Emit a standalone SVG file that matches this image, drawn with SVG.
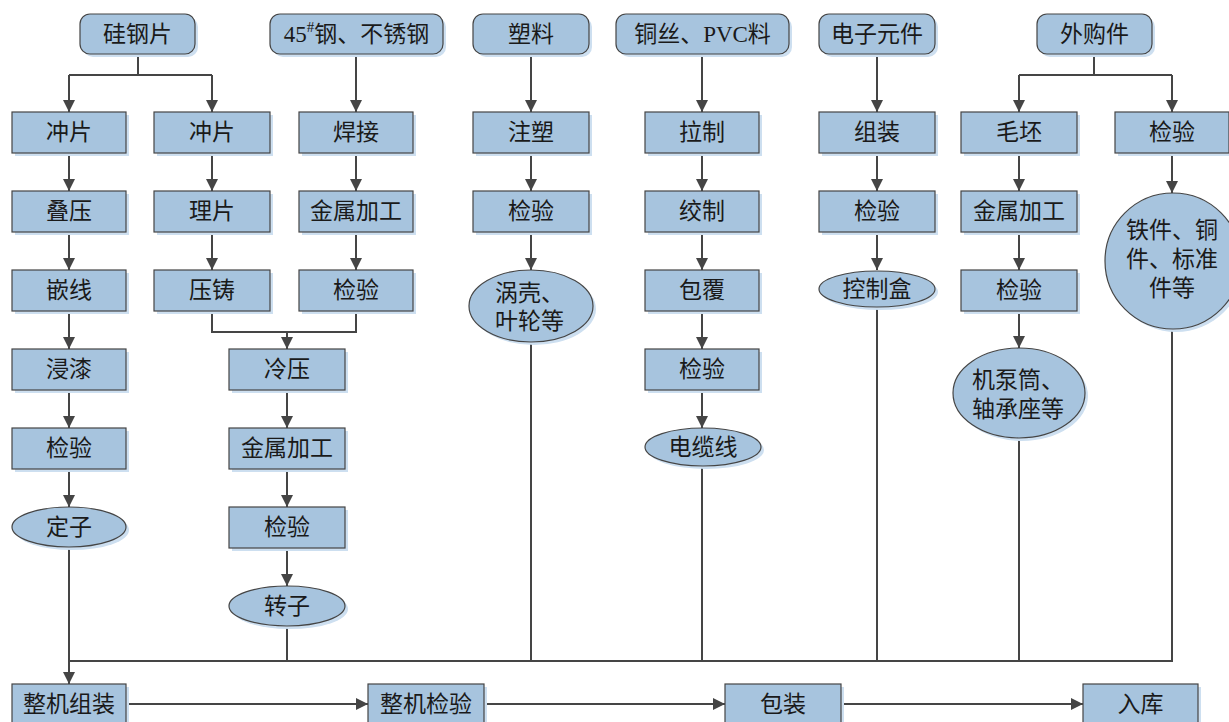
<svg xmlns="http://www.w3.org/2000/svg" width="1229" height="722" viewBox="0 0 1229 722">
<style>
.n{fill:#a7c4de;stroke:#454545;stroke-width:1.2}
.s{fill:#cddff0;stroke:none}
.t{font-family:"Liberation Serif","Noto Sans CJK SC",serif;font-size:23px;fill:#1a1a1a;text-anchor:middle;dominant-baseline:central}
.ts{font-family:"Liberation Serif","Noto Sans CJK SC",serif;font-size:23px;fill:#1a1a1a;text-anchor:start;dominant-baseline:central}
.c{fill:none;stroke:#454545;stroke-width:2}
.a{marker-end:url(#ah)}
</style>
<defs>
<marker id="ah" markerUnits="userSpaceOnUse" markerWidth="13" markerHeight="13" refX="12" refY="6" orient="auto">
<path d="M0,0 L12,6 L0,12 z" fill="#454545"/>
</marker>
</defs>
<rect width="1229" height="722" fill="#ffffff"/>
<g id="connectors">
<path class="c" d="M138 54V75M69 75H212"/>
<path class="c a" d="M69 75V112"/>
<path class="c a" d="M212 75V112"/>
<path class="c a" d="M356 54V112"/>
<path class="c a" d="M531 54V112"/>
<path class="c a" d="M702 54V112"/>
<path class="c a" d="M877 54V112"/>
<path class="c" d="M1094 54V75M1019 75H1172"/>
<path class="c a" d="M1019 75V112"/>
<path class="c a" d="M1172 75V112"/>
<path class="c a" d="M69 153V191"/>
<path class="c a" d="M69 232V270"/>
<path class="c a" d="M69 311V349"/>
<path class="c a" d="M69 390V428"/>
<path class="c a" d="M69 469V507"/>
<path class="c a" d="M212 153V191"/>
<path class="c a" d="M212 232V270"/>
<path class="c a" d="M356 153V191"/>
<path class="c a" d="M356 232V270"/>
<path class="c" d="M212 311V332H356V311"/>
<path class="c a" d="M287 332V349"/>
<path class="c a" d="M287 390V428"/>
<path class="c a" d="M287 469V507"/>
<path class="c a" d="M287 548V586"/>
<path class="c a" d="M531 153V191"/>
<path class="c a" d="M531 232V270"/>
<path class="c a" d="M702 153V191"/>
<path class="c a" d="M702 232V270"/>
<path class="c a" d="M702 311V349"/>
<path class="c a" d="M702 390V428"/>
<path class="c a" d="M877 153V191"/>
<path class="c a" d="M877 232V270"/>
<path class="c a" d="M1019 153V191"/>
<path class="c a" d="M1019 232V270"/>
<path class="c a" d="M1019 311V348"/>
<path class="c a" d="M1172 153V193"/>
<path class="c" d="M69 547V661H1172V329M287 626V661M531 342V661M702 466V661M877 308V661M1019 438V661"/>
<path class="c a" d="M69 661V684"/>
<path class="c a" d="M126 704H368"/>
<path class="c a" d="M484 704H725"/>
<path class="c a" d="M841 704H1083"/>
</g>
<g id="n-guigangpian"><rect class="s" x="83" y="17" width="115" height="40" rx="10"/><rect class="n" x="80" y="14" width="115" height="40" rx="10"/><text class="t" x="137.5" y="34">硅钢片</text></g>
<g id="n-45gang"><rect class="s" x="273" y="17" width="173" height="40" rx="10"/><rect class="n" x="270" y="14" width="173" height="40" rx="10"/><text class="t" x="356.5" y="34">45<tspan font-size="15" dy="-7">#</tspan><tspan dy="7">钢、不锈钢</tspan></text></g>
<g id="n-suliao"><rect class="s" x="476" y="17" width="116" height="40" rx="10"/><rect class="n" x="473" y="14" width="116" height="40" rx="10"/><text class="t" x="531" y="34">塑料</text></g>
<g id="n-tongsi"><rect class="s" x="619" y="17" width="173" height="40" rx="10"/><rect class="n" x="616" y="14" width="173" height="40" rx="10"/><text class="t" x="702.5" y="34">铜丝、PVC料</text></g>
<g id="n-dianzi"><rect class="s" x="822" y="17" width="116" height="40" rx="10"/><rect class="n" x="819" y="14" width="116" height="40" rx="10"/><text class="t" x="877" y="34">电子元件</text></g>
<g id="n-waigou"><rect class="s" x="1040" y="17" width="115" height="40" rx="10"/><rect class="n" x="1037" y="14" width="115" height="40" rx="10"/><text class="t" x="1094.5" y="34">外购件</text></g>

<g id="n-c1-chongpian"><rect class="s" x="15" y="115" width="114" height="41"/><rect class="n" x="12" y="112" width="114" height="41"/><text class="t" x="69" y="132.5">冲片</text></g>
<g id="n-c1-diya"><rect class="s" x="15" y="194" width="114" height="41"/><rect class="n" x="12" y="191" width="114" height="41"/><text class="t" x="69" y="211.5">叠压</text></g>
<g id="n-c1-qianxian"><rect class="s" x="15" y="273" width="114" height="41"/><rect class="n" x="12" y="270" width="114" height="41"/><text class="t" x="69" y="290.5">嵌线</text></g>
<g id="n-c1-jinqi"><rect class="s" x="15" y="352" width="114" height="41"/><rect class="n" x="12" y="349" width="114" height="41"/><text class="t" x="69" y="369.5">浸漆</text></g>
<g id="n-c1-jianyan"><rect class="s" x="15" y="431" width="114" height="41"/><rect class="n" x="12" y="428" width="114" height="41"/><text class="t" x="69" y="448.5">检验</text></g>
<g id="n-dingzi"><ellipse class="s" cx="72" cy="530" rx="57" ry="20"/><ellipse class="n" cx="69" cy="527" rx="57" ry="20"/><text class="t" x="69" y="527">定子</text></g>

<g id="n-c2-chongpian"><rect class="s" x="157" y="115" width="116" height="41"/><rect class="n" x="154" y="112" width="116" height="41"/><text class="t" x="212" y="132.5">冲片</text></g>
<g id="n-c2-lipian"><rect class="s" x="157" y="194" width="116" height="41"/><rect class="n" x="154" y="191" width="116" height="41"/><text class="t" x="212" y="211.5">理片</text></g>
<g id="n-c2-yazhu"><rect class="s" x="157" y="273" width="116" height="41"/><rect class="n" x="154" y="270" width="116" height="41"/><text class="t" x="212" y="290.5">压铸</text></g>

<g id="n-c3-hanjie"><rect class="s" x="302" y="115" width="114" height="41"/><rect class="n" x="299" y="112" width="114" height="41"/><text class="t" x="356" y="132.5">焊接</text></g>
<g id="n-c3-jinshu"><rect class="s" x="302" y="194" width="114" height="41"/><rect class="n" x="299" y="191" width="114" height="41"/><text class="t" x="356" y="211.5">金属加工</text></g>
<g id="n-c3-jianyan"><rect class="s" x="302" y="273" width="114" height="41"/><rect class="n" x="299" y="270" width="114" height="41"/><text class="t" x="356" y="290.5">检验</text></g>

<g id="n-lengya"><rect class="s" x="232" y="352" width="116" height="41"/><rect class="n" x="229" y="349" width="116" height="41"/><text class="t" x="287" y="369.5">冷压</text></g>
<g id="n-r-jinshu"><rect class="s" x="232" y="431" width="116" height="41"/><rect class="n" x="229" y="428" width="116" height="41"/><text class="t" x="287" y="448.5">金属加工</text></g>
<g id="n-r-jianyan"><rect class="s" x="232" y="510" width="116" height="41"/><rect class="n" x="229" y="507" width="116" height="41"/><text class="t" x="287" y="527.5">检验</text></g>
<g id="n-zhuanzi"><ellipse class="s" cx="290" cy="609" rx="58" ry="20"/><ellipse class="n" cx="287" cy="606" rx="58" ry="20"/><text class="t" x="287" y="606">转子</text></g>

<g id="n-zhusu"><rect class="s" x="476" y="115" width="116" height="41"/><rect class="n" x="473" y="112" width="116" height="41"/><text class="t" x="531" y="132.5">注塑</text></g>
<g id="n-c4-jianyan"><rect class="s" x="476" y="194" width="116" height="41"/><rect class="n" x="473" y="191" width="116" height="41"/><text class="t" x="531" y="211.5">检验</text></g>
<g id="n-woke"><ellipse class="s" cx="534" cy="309" rx="62" ry="36"/><ellipse class="n" cx="531" cy="306" rx="62" ry="36"/><text class="ts" x="495" y="293">涡壳、</text><text class="ts" x="495" y="321">叶轮等</text></g>

<g id="n-lazhi"><rect class="s" x="648" y="115" width="114" height="41"/><rect class="n" x="645" y="112" width="114" height="41"/><text class="t" x="702" y="132.5">拉制</text></g>
<g id="n-jiaozhi"><rect class="s" x="648" y="194" width="114" height="41"/><rect class="n" x="645" y="191" width="114" height="41"/><text class="t" x="702" y="211.5">绞制</text></g>
<g id="n-baofu"><rect class="s" x="648" y="273" width="114" height="41"/><rect class="n" x="645" y="270" width="114" height="41"/><text class="t" x="702" y="290.5">包覆</text></g>
<g id="n-c5-jianyan"><rect class="s" x="648" y="352" width="114" height="41"/><rect class="n" x="645" y="349" width="114" height="41"/><text class="t" x="702" y="369.5">检验</text></g>
<g id="n-dianlanxian"><ellipse class="s" cx="706" cy="450" rx="58" ry="19"/><ellipse class="n" cx="703" cy="447" rx="58" ry="19"/><text class="t" x="703" y="447">电缆线</text></g>

<g id="n-zuzhuang"><rect class="s" x="822" y="115" width="116" height="41"/><rect class="n" x="819" y="112" width="116" height="41"/><text class="t" x="877" y="132.5">组装</text></g>
<g id="n-c6-jianyan"><rect class="s" x="822" y="194" width="116" height="41"/><rect class="n" x="819" y="191" width="116" height="41"/><text class="t" x="877" y="211.5">检验</text></g>
<g id="n-kongzhihe"><ellipse class="s" cx="880" cy="292" rx="58" ry="18"/><ellipse class="n" cx="877" cy="289" rx="58" ry="18"/><text class="t" x="877" y="289">控制盒</text></g>

<g id="n-maopi"><rect class="s" x="964" y="115" width="116" height="41"/><rect class="n" x="961" y="112" width="116" height="41"/><text class="t" x="1019" y="132.5">毛坯</text></g>
<g id="n-c7-jinshu"><rect class="s" x="964" y="194" width="116" height="41"/><rect class="n" x="961" y="191" width="116" height="41"/><text class="t" x="1019" y="211.5">金属加工</text></g>
<g id="n-c7-jianyan"><rect class="s" x="964" y="273" width="116" height="41"/><rect class="n" x="961" y="270" width="116" height="41"/><text class="t" x="1019" y="290.5">检验</text></g>
<g id="n-jibengtong"><ellipse class="s" cx="1022" cy="396" rx="66" ry="45"/><ellipse class="n" cx="1019" cy="393" rx="66" ry="45"/><text class="ts" x="972" y="380">机泵筒、</text><text class="ts" x="972" y="409">轴承座等</text></g>

<g id="n-c8-jianyan"><rect class="s" x="1118" y="115" width="114" height="41"/><rect class="n" x="1115" y="112" width="114" height="41"/><text class="t" x="1172" y="132.5">检验</text></g>
<g id="n-tiejian"><ellipse class="s" cx="1176" cy="264" rx="68" ry="68"/><ellipse class="n" cx="1173" cy="261" rx="68" ry="68"/><text class="t" x="1172" y="230">铁件、铜</text><text class="t" x="1172" y="259">件、标准</text><text class="t" x="1172" y="288">件等</text></g>

<g id="n-zhengjizuzhuang"><rect class="s" x="15" y="687" width="114" height="41"/><rect class="n" x="12" y="684" width="114" height="41"/><text class="t" x="69" y="704">整机组装</text></g>
<g id="n-zhengjijianyan"><rect class="s" x="371" y="687" width="116" height="41"/><rect class="n" x="368" y="684" width="116" height="41"/><text class="t" x="426" y="704">整机检验</text></g>
<g id="n-baozhuang"><rect class="s" x="728" y="687" width="116" height="41"/><rect class="n" x="725" y="684" width="116" height="41"/><text class="t" x="783" y="704">包装</text></g>
<g id="n-ruku"><rect class="s" x="1086" y="687" width="115" height="41"/><rect class="n" x="1083" y="684" width="115" height="41"/><text class="t" x="1140.5" y="704">入库</text></g>
</svg>
